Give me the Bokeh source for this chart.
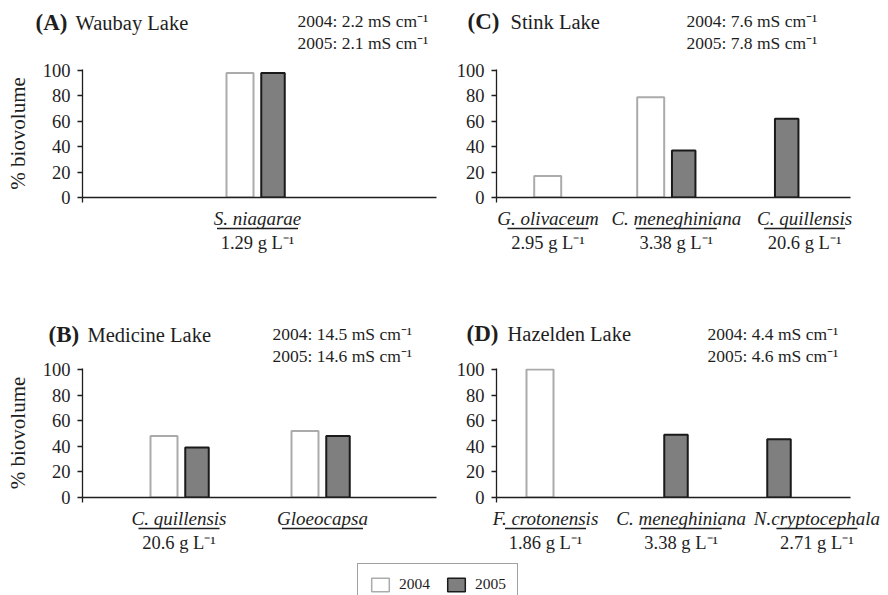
import numpy as np
from bokeh.plotting import figure
from bokeh.models import (Range1d, FixedTicker, ColumnDataSource, Legend, LegendItem,
                          CustomJSTickFormatter)
from bokeh.core.properties import value
from bokeh.layouts import column, row
from bokeh.embed import file_html
from bokeh.resources import INLINE

# ---------------- data ----------------
years = ["2004", "2005"]

a_taxa = ["S. niagarae"]
a_conc = ["1.29 g L⁻¹"]
a_2004 = [98]
a_2005 = [98]
a_cond = ["2004: 2.2 mS cm⁻¹", "2005: 2.1 mS cm⁻¹"]

b_taxa = ["C. quillensis", "Gloeocapsa"]
b_conc = ["20.6 g L⁻¹", ""]
b_2004 = [48, 52]
b_2005 = [39, 48]
b_cond = ["2004: 14.5 mS cm⁻¹", "2005: 14.6 mS cm⁻¹"]

c_taxa = ["G. olivaceum", "C. meneghiniana", "C. quillensis"]
c_conc = ["2.95 g L⁻¹", "3.38 g L⁻¹", "20.6 g L⁻¹"]
c_2004 = [17, 79, 0]
c_2005 = [0, 37, 62]
c_cond = ["2004: 7.6 mS cm⁻¹", "2005: 7.8 mS cm⁻¹"]

d_taxa = ["F. crotonensis", "C. meneghiniana", "N.cryptocephala"]
d_conc = ["1.86 g L⁻¹", "3.38 g L⁻¹", "2.71 g L⁻¹"]
d_2004 = [100, 0, 0]
d_2005 = [0, 49, 45.5]
d_cond = ["2004: 4.4 mS cm⁻¹", "2005: 4.6 mS cm⁻¹"]

y_ticks = [0, 20, 40, 60, 80, 100]
y_label = "% biovolume"

# ---------------- layout (pixels) ----------------
FONT = "Liberation Serif"
INK = "#1e1e1e"
C04_LINE = "#ababab"
C05_FILL = "#7f7f7f"
C05_LINE = "#1a1a1a"

LAYOUT = {
    "A": dict(origin=(0, 0), H=285, left=82, axis_end=436, c0=256, s=141, lc0=257, ls=141,
              y100=70, zero=197, tag_x=35, lake_x=75, title_y=22, cond_x=297, cond_y=(20, 42), ylabel=True),
    "C": dict(origin=(444, 0), H=285, left=52, axis_end=850, c0=563.7, s=103, lc0=547.5, ls=128.3,
              y100=70, zero=197, tag_x=467, lake_x=510, title_y=21, cond_x=686, cond_y=(20, 42), ylabel=False),
    "B": dict(origin=(0, 285), H=277, left=82, axis_end=436, c0=180, s=141, lc0=178.5, ls=143.5,
              y100=369, zero=497, tag_x=48, lake_x=87, title_y=334, cond_x=272, cond_y=(333, 355), ylabel=True),
    "D": dict(origin=(444, 285), H=277, left=52, axis_end=850, c0=556, s=103, lc0=545, ls=135.7,
              y100=369, zero=497, tag_x=466, lake_x=507, title_y=333, cond_x=707, cond_y=(333, 355), ylabel=False),
}


def make_panel(taxa, conc, v04, v05, tag, lake, cond, L):
    n = len(taxa)
    idx = np.arange(n, dtype=float)
    s, c0 = L["s"], L["c0"]
    fx0, fy0 = L["origin"]
    left_abs = fx0 + L["left"]
    right_abs = L["axis_end"]
    x_start = (left_abs - c0) / s
    x_end = (right_abs - c0) / s
    scale = (L["zero"] - L["y100"]) / 100.0
    y_end = 100 + 1.0 / scale
    H = L["H"]

    p = figure(width=444, height=H, x_range=Range1d(x_start, x_end), y_range=Range1d(0, y_end),
               toolbar_location=None, output_backend="svg",
               min_border_left=L["left"], min_border_right=fx0 + 444 - right_abs,
               min_border_top=L["y100"] - 1 - fy0, min_border_bottom=fy0 + H - L["zero"],
               outline_line_color=None, background_fill_color="white", border_fill_color="white")
    p.xgrid.visible = False
    p.ygrid.visible = False

    # bars
    off = 16.5 / s
    a04 = np.array(v04, dtype=float)
    a05 = np.array(v05, dtype=float)
    m04 = a04 > 0
    m05 = a05 > 0
    s04 = ColumnDataSource(dict(x=(idx - off)[m04], top=a04[m04]))
    s05 = ColumnDataSource(dict(x=(idx + off)[m05], top=a05[m05]))
    p.vbar(x="x", top="top", bottom=0, width=27.0 / s, source=s04,
           fill_color="white", line_color=C04_LINE, line_width=2)
    p.vbar(x="x", top="top", bottom=0, width=23.5 / s, source=s05,
           fill_color=C05_FILL, line_color=C05_LINE, line_width=2)

    # y axis
    ya = p.yaxis[0]
    ya.ticker = FixedTicker(ticks=y_ticks)
    ya.major_tick_out = 5
    ya.major_tick_in = 0
    ya.minor_tick_line_color = None
    ya.axis_line_color = INK
    ya.axis_line_width = 1.3
    ya.major_tick_line_color = INK
    ya.major_tick_line_width = 1.3
    ya.major_label_text_font = FONT
    ya.major_label_text_font_size = "18.5px"
    ya.major_label_text_color = INK
    ya.major_label_standoff = 7
    if L["ylabel"]:
        ya.axis_label = y_label
        ya.axis_label_text_font = FONT
        ya.axis_label_text_font_style = "normal"
        ya.axis_label_text_font_size = "21px"
        ya.axis_label_text_color = INK
        ya.axis_label_standoff = 10

    # x axis: line at zero, one tick at its left end
    xa = p.xaxis[0]
    xa.ticker = FixedTicker(ticks=[x_start + 1e-9])
    xa.formatter = CustomJSTickFormatter(code="return ''")
    xa.major_tick_out = 5
    xa.major_tick_in = 0
    xa.minor_tick_line_color = None
    xa.axis_line_color = INK
    xa.axis_line_width = 1.3
    xa.major_tick_line_color = INK
    xa.major_tick_line_width = 1.3

    # category labels (drawn at overlay level so they are not clipped to the frame)
    ls, lc0 = L["ls"], L["lc0"]
    p.extra_x_ranges = {"lab": Range1d((left_abs - lc0) / ls, (right_abs - lc0) / ls)}
    lab = ColumnDataSource(dict(x=idx, name=taxa, conc=conc,
                                yn=[-20.6 / scale] * n, yc=[-45.6 / scale] * n,
                                x0=idx - 40.5 / ls, x1=idx + 40.5 / ls, yl=[-31.0 / scale] * n))
    p.text(x="x", y="yn", text="name", source=lab, x_range_name="lab", level="overlay",
           text_align=value("center"), text_baseline=value("middle"),
           text_font=value(FONT), text_font_style=value("italic"),
           text_font_size=value("19px"), text_color=INK)
    p.text(x="x", y="yc", text="conc", source=lab, x_range_name="lab", level="overlay",
           text_align=value("center"), text_baseline=value("middle"),
           text_font=value(FONT), text_font_size=value("18.5px"), text_color=INK)
    p.segment(x0="x0", y0="yl", x1="x1", y1="yl", source=lab, x_range_name="lab",
              level="overlay", line_color=INK, line_width=1.5)

    # titles and conductivity notes
    def xd(px):
        return (px - c0) / s

    def yd(py):
        return (L["zero"] - py) / scale

    p.text(x=[xd(L["tag_x"])], y=[yd(L["title_y"])], text=[tag], level="overlay",
           text_font=value(FONT), text_font_style=value("bold"), text_font_size=value("23px"),
           text_color=INK, text_baseline=value("middle"), text_align=value("left"))
    p.text(x=[xd(L["lake_x"])], y=[yd(L["title_y"])], text=[lake], level="overlay",
           text_font=value(FONT), text_font_size=value("20.5px"),
           text_color=INK, text_baseline=value("middle"), text_align=value("left"))
    p.text(x=[xd(L["cond_x"])] * len(cond), y=[yd(cy) for cy in L["cond_y"]], text=cond,
           level="overlay", text_font=value(FONT), text_font_size=value("17.5px"),
           text_color=INK, text_baseline=value("middle"), text_align=value("left"))
    return p


pA = make_panel(a_taxa, a_conc, a_2004, a_2005, "(A)", "Waubay Lake", a_cond, LAYOUT["A"])
pC = make_panel(c_taxa, c_conc, c_2004, c_2005, "(C)", "Stink Lake", c_cond, LAYOUT["C"])
pB = make_panel(b_taxa, b_conc, b_2004, b_2005, "(B)", "Medicine Lake", b_cond, LAYOUT["B"])
pD = make_panel(d_taxa, d_conc, d_2004, d_2005, "(D)", "Hazelden Lake", d_cond, LAYOUT["D"])

# legend strip (swatch renderers sit hidden beneath the opaque legend box)
pL = figure(width=888, height=33, x_range=Range1d(0, 1), y_range=Range1d(0, 1),
            toolbar_location=None, output_backend="svg", min_border=0,
            x_axis_location=None, y_axis_location=None, outline_line_color=None,
            border_fill_color="white", background_fill_color="white")
pL.xgrid.visible = False
pL.ygrid.visible = False
r04 = pL.vbar(x=[0.48], top=[0.5], bottom=[0.4], width=0.005,
              fill_color="white", line_color=C04_LINE, line_width=1.5)
r05 = pL.vbar(x=[0.48], top=[0.5], bottom=[0.4], width=0.005,
              fill_color=C05_FILL, line_color=C05_LINE, line_width=1.5)
leg = Legend(items=[LegendItem(label=years[0], renderers=[r04]),
                    LegendItem(label=years[1], renderers=[r05])],
             orientation="horizontal", location=(357, -10),
             glyph_width=22, glyph_height=17, label_height=17, label_standoff=8, spacing=15,
             padding=11, margin=0, label_text_font=FONT, label_text_font_size="15.5px",
             label_text_color=INK, label_text_baseline="middle",
             border_line_color="#444444", border_line_width=1, background_fill_color="white",
             background_fill_alpha=1)
pL.add_layout(leg)

layout = column(row(pA, pC), row(pB, pD), pL)
open("out.html", "w").write(file_html(layout, INLINE))
